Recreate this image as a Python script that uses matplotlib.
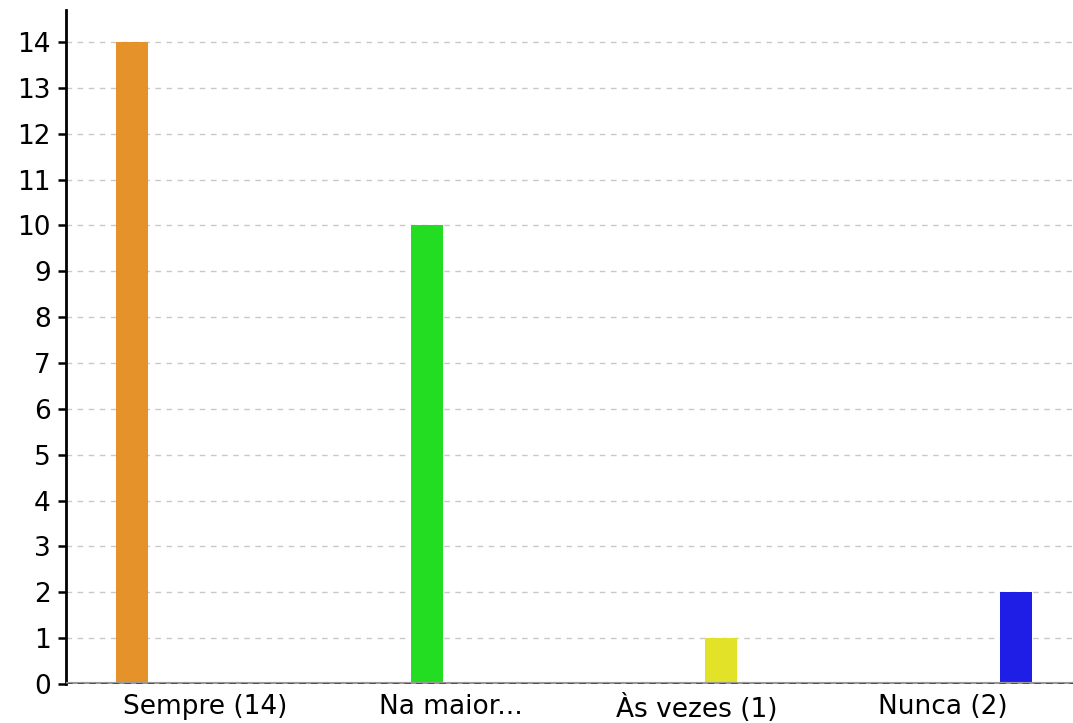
import numpy as np
import matplotlib.pyplot as plt

categories = ["Sempre (14)", "Na maior...", "Às vezes (1)", "Nunca (2)"]
values = [14, 10, 1, 2]
colors = ["#E6922B", "#22DD22", "#E2E228", "#1E1EE6"]

fig = plt.figure(figsize=(10.73, 7.23), dpi=100)
ax = fig.add_axes([66 / 1073, 1 - 684 / 723, (1073 - 66) / 1073, (684 - 10) / 723])

# grouped layout: series i only has a value in category i
n = len(categories)
step = 0.197
width = 0.13
for i, (v, c) in enumerate(zip(values, colors)):
    x = i + (i - (n - 1) / 2) * step
    ax.bar(x, v, width=width, color=c, zorder=2)

ax.set_xlim(-0.565, 3.528)
ax.set_ylim(0, 14.7)
ax.set_yticks(range(0, 15))
ax.set_xticks(range(n))
ax.set_xticklabels(categories)
ax.tick_params(axis="x", length=0, labelsize=19, pad=7)
ax.tick_params(axis="y", length=6, width=1.8, labelsize=19, pad=5)

ax.grid(axis="y", linestyle=(0, (4, 4)), color="#c8c8c8", linewidth=1, zorder=0)
ax.axhline(0, color="#999999", linewidth=3, zorder=3)
ax.axhline(0, color="#444444", linewidth=1.2, linestyle=(0, (4, 3)), zorder=4)

for s in ["top", "right", "bottom"]:
    ax.spines[s].set_visible(False)
ax.spines["left"].set_linewidth(2)

fig.savefig("out.png", dpi=100)
